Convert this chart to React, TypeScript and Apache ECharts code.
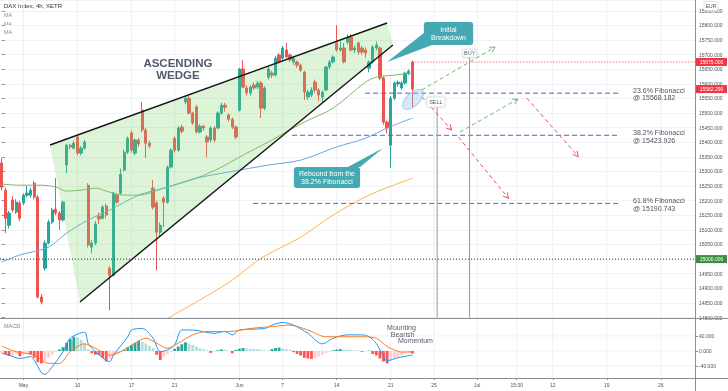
import React, { useEffect, useRef } from 'react';
import * as echarts from 'echarts';

// ---------- axis layout data ----------
const SLOT_COUNT = 193; // 4h bar slots (3 per trading day)
const X_LABEL_SLOTS = [6, 21, 36, 48, 66, 78, 93, 108, 120, 132, 143, 153, 168, 183];
const X_LABEL_TEXTS = ['May', '10', '17', '21', 'Jun', '7', '14', '21', '25', 'Jul', '15:00', '12', '19', '26'];

const PRICE_MIN = 14800;
const PRICE_MAX = 15887.3;
const PRICE_STEP = 50;
const MACD_MIN = -72;
const MACD_MAX = 85.3;
const MACD_TICKS = [-40, 0, 40];

// ---------- candles (DAX 4h) ----------
const candleOpen = [
  15329, 15236, 15116, 15202, 15161, 15192, 15192, 15219, 15219, 15260,
  15212, 14870, 14969, 15055, 15127, 15171, 15158, 15134, 15322, 15390,
  15380, 15418, 15363, 15380, 15253, 15041, 15055, 15147, 15140, 15182,
  14969, 14945, 15219, 15226, 15305, 15366, 15432, 15363, 15408, 15510,
  15442, 15397, 15243, 15192, 15092, 15209, 15195, 15315, 15414, 15373,
  15452, 15538, 15551, 15500, 15521, 15435, 15455, 15418, 15408, 15449,
  15449, 15500, 15527, 15493, 15479, 15452, 15510, 15651, 15586, 15569,
  15596, 15589, 15603, 15517, 15623, 15637, 15630, 15699, 15688, 15716,
  15699, 15675, 15675, 15664, 15640, 15555, 15562, 15606, 15579, 15555,
  15579, 15658, 15675, 15740, 15716, 15723, 15743, 15760, 15716, 15740,
  15723, 15716, 15654, 15675, 15723, 15723, 15620, 15469, 15390, 15551,
  15600, 15586, 15603, 15637, 15675,
];
const candleClose = [
  15246, 15140, 15158, 15168, 15195, 15140, 15219, 15226, 15236, 15212,
  14870, 14853, 15055, 15127, 15168, 15158, 15134, 15195, 15390, 15384,
  15397, 15363, 15380, 15401, 15048, 15055, 15120, 15137, 15178, 15151,
  14945, 15226, 15195, 15290, 15366, 15414, 15373, 15408, 15394, 15442,
  15397, 15387, 15178, 15092, 15116, 15195, 15315, 15373, 15373, 15449,
  15438, 15551, 15500, 15466, 15435, 15455, 15449, 15401, 15449, 15408,
  15500, 15527, 15520, 15479, 15452, 15418, 15651, 15589, 15569, 15589,
  15586, 15603, 15517, 15586, 15651, 15630, 15688, 15675, 15723, 15692,
  15682, 15688, 15664, 15647, 15572, 15572, 15579, 15579, 15562, 15572,
  15658, 15675, 15692, 15716, 15723, 15675, 15760, 15716, 15723, 15709,
  15709, 15706, 15675, 15726, 15733, 15620, 15469, 15449, 15551, 15603,
  15606, 15603, 15637, 15644, 15582.29,
];
const candleLow = [
  15235, 15089, 15105, 15160, 15155, 15130, 15185, 15212, 15210, 15205,
  14865, 14845, 14960, 15050, 15120, 15150, 15100, 15128, 15295, 15375,
  15375, 15355, 15355, 15375, 15040, 15020, 15048, 15120, 15135, 15140,
  14825, 14940, 15190, 15220, 15300, 15360, 15365, 15355, 15385, 15435,
  15346, 15380, 15170, 14962, 15080, 15110, 15190, 15310, 15365, 15368,
  15430, 15530, 15495, 15460, 15430, 15430, 15440, 15349, 15400, 15400,
  15445, 15495, 15505, 15470, 15445, 15410, 15505, 15585, 15560, 15560,
  15580, 15582, 15483, 15510, 15615, 15620, 15625, 15670, 15682, 15688,
  15675, 15665, 15655, 15640, 15545, 15545, 15555, 15570, 15540, 15535,
  15575, 15650, 15670, 15710, 15710, 15670, 15735, 15710, 15705, 15700,
  15700, 15690, 15640, 15670, 15715, 15612, 15460, 15430, 15312, 15545,
  15590, 15580, 15598, 15630, 15521,
];
const candleHigh = [
  15345, 15245, 15165, 15215, 15205, 15200, 15225, 15250, 15245, 15267,
  15220, 14880, 15065, 15135, 15175, 15277, 15165, 15200, 15395, 15395,
  15405, 15425, 15388, 15408, 15260, 15065, 15130, 15160, 15185, 15190,
  14975, 15230, 15225, 15310, 15375, 15420, 15440, 15412, 15415, 15538,
  15450, 15405, 15271, 15200, 15125, 15215, 15320, 15380, 15420, 15455,
  15460, 15560, 15560, 15505, 15528, 15462, 15460, 15425, 15455, 15455,
  15506, 15535, 15535, 15500, 15485, 15458, 15655, 15682, 15595, 15595,
  15605, 15610, 15610, 15592, 15660, 15645, 15695, 15705, 15730, 15740,
  15705, 15695, 15680, 15670, 15645, 15580, 15588, 15615, 15585, 15578,
  15662, 15682, 15698, 15801, 15745, 15740, 15770, 15770, 15730, 15745,
  15730, 15725, 15680, 15732, 15745, 15728, 15625, 15475, 15558, 15608,
  15612, 15610, 15642, 15650, 15680,
];

// ---------- moving averages [slot, price] ----------
const maFast = [
  [0, 15257], [5, 15253], [11, 15253], [15, 15247], [18, 15233], [22, 15236], [26, 15243],
  [30, 15229], [34, 15219], [38, 15219], [45, 15243], [54, 15277], [61, 15315], [67, 15356],
  [74, 15401], [84, 15469], [92, 15517], [101, 15606], [104, 15623], [109, 15630], [114, 15637],
];
const maMid = [
  [0, 14990], [5, 15014], [13, 15041], [18, 15089], [24, 15134], [30, 15168], [38, 15219],
  [45, 15243], [54, 15277], [63, 15298], [74, 15322], [83, 15339], [93, 15384], [101, 15414],
  [107, 15449], [114, 15483],
];
const maSlow = [
  [45, 14790], [55, 14860], [64, 14928], [72, 15003], [83, 15075], [92, 15151], [102, 15219], [114, 15277],
];

// ---------- MACD ----------
const macdHist = [
  -6, -9, -13, -12, -8, -14, -10, -8, -9, -18,
  -30, -33, -26, -18, -10, -3, 4, 10, 22, 32,
  38, 36, 30, 20, 5, -6, -10, -11, -18, -28,
  -20, -14, -8, -3, 3, 10, 16, 22, 27, 25,
  20, 14, 8, -10, -24, -15, -8, -3, 6, 12,
  18, 23, 20, 16, 12, 8, 5, 2, -5, -2,
  2, 4, 3, 1, -6, 3, 6, 8, 7, 6,
  6, 5, 3, 2, 1, 5, 8, 9, 7, 5,
  3, -3, -8, -12, -18, -20, -21, -18, -14, -10,
  -5, -2, 2, 4, 5, 4, 4, 3, 2, 1,
  -2, -1, 1, -8, -12, -20, -28, -33, -26, -20,
  -16, -12, -8, -5, -7,
];
const macdLine = [
  [0, -6], [2, -11], [5, -20], [8, -15], [9, -24], [11, -58], [12, -62], [14, -42], [17, -2],
  [19, 34], [23, 50], [24, 20], [26, -2], [30, -28], [31, -11], [35, 38], [36, 56], [39, 60],
  [42, 34], [44, -2], [46, 3], [48, 16], [50, 56], [53, 56], [59, 47], [62, 52], [64, 43],
  [66, 56], [73, 60], [75, 69], [78, 76], [81, 69], [85, 47], [89, 19], [92, 34], [96, 43],
  [100, 43], [102, 38], [104, 20], [106, -15], [107, -26], [110, -18], [114, -11],
];
const macdSignal = [
  [0, 13], [4, -2], [9, -11], [13, -33], [16, -33], [19, -2], [23, 19], [26, 7], [30, -11],
  [33, -2], [37, 21], [40, 34], [43, 21], [46, 7], [49, 21], [53, 43], [57, 52], [63, 52],
  [70, 61], [75, 65], [80, 69], [85, 56], [90, 38], [96, 38], [100, 38], [104, 34], [107, 12],
  [109, 3], [111, -3], [114, -2],
];

// ---------- annotations (slot, price) ----------
const FIB_NAMES = ['23.6%', '38.2%', '61.8%'];
const FIB_LEVELS = [15568.182, 15423.926, 15190.743];
const FIB_START = [100.9, 80.6, 69.8];
const FIB_END = 171.7;
const FIB_LABEL_SLOT = 175.3;

const WEDGE_UPPER = [[13.4, 15390.7], [107.0, 15808.5]];
const WEDGE_LOWER = [[21.7, 14853.1], [108.6, 15733.2]];
const WEDGE_LABEL = [48.9, 15651];

const RESISTANCE = 15675;
const RESISTANCE_FROM = 114;
const ROUND_LEVEL = 15000;
const LAST_PRICE = 15582.29;

const BUY_ARROWS = [
  [[116.6, 15579], [137.0, 15726]],
  [[127.2, 15435], [143.3, 15548]],
];
const SELL_ARROWS = [
  [[116.6, 15556], [124.9, 15442]],
  [[126.8, 15418], [140.7, 15208]],
  [[145.8, 15551], [160.1, 15351]],
];
const SELL_LINE = [120.9, 15521];
const BUY_LINE = [129.9, 15692];
const SELL_TAG = [[118.0, 15555], [123.1, 15521]];
const BUY_TAG = [[128.0, 15718.5], [131.9, 15691]];
const FOCUS_ZONE = [114.2, 15547];

const CALLOUTS = [
  {
    text: 'Initial\nBreakdown',
    box: [[117.2, 15812], [130.9, 15733]],
    pointer: [[117.2, 15774], [119.5, 15733], [107.0, 15675]],
  },
  {
    text: 'Rebound from the\n38.2% Fibonacci',
    box: [[81.1, 15315.4], [99.5, 15243.5]],
    pointer: [[96.1, 15315.4], [99.5, 15315.4], [105.9, 15380.5]],
  },
];

const MOMENTUM_NOTE: [string, number, number][] = [
  ['Mounting', 107, 62],
  ['Bearish', 108, 45],
  ['Momentum', 110, 27.5],
];

const FONT = 'Liberation Sans';
const UP = '#26a69a';
const DOWN = '#ef5350';
const AXIS_GRAY = '#8a8d94';

function seg(a: number[], b: number[], stroke: string, lineWidth = 1, lineDash?: number[]) {
  return {
    type: 'line',
    shape: { x1: a[0], y1: a[1], x2: b[0], y2: b[1] },
    style: { stroke, lineWidth, lineDash, fill: null },
  };
}

function arrow(a: number[], b: number[], color: string) {
  const ang = Math.atan2(b[1] - a[1], b[0] - a[0]);
  const L = 6;
  const h1 = [b[0] - L * Math.cos(ang - 0.5), b[1] - L * Math.sin(ang - 0.5)];
  const h2 = [b[0] - L * Math.cos(ang + 0.5), b[1] - L * Math.sin(ang + 0.5)];
  return [
    seg(a, b, color, 1, [4, 3]),
    { type: 'polyline', shape: { points: [h1, b, h2] }, style: { stroke: color, lineWidth: 1, fill: null } },
  ];
}

function renderAnnotations(params: any, api: any) {
  const P = (p: number[]) => api.coord(p);
  const cs = params.coordSys;
  const right = cs.x + cs.width;
  const bottom = cs.y + cs.height;
  const ch: any[] = [];

  // wedge
  const u0 = P(WEDGE_UPPER[0]), u1 = P(WEDGE_UPPER[1]);
  const l0 = P(WEDGE_LOWER[0]), l1 = P(WEDGE_LOWER[1]);
  ch.push({ type: 'polygon', shape: { points: [u0, u1, l1, l0] }, style: { fill: 'rgba(120,210,100,0.25)' } });
  ch.push(seg(u0, u1, '#151515', 1.4));
  ch.push(seg(l0, l1, '#151515', 1.4));
  const wl = P(WEDGE_LABEL);
  ch.push({
    type: 'text', x: wl[0], y: wl[1],
    style: { text: 'ASCENDING\nWEDGE', fill: '#4f5b6d', fontSize: 11.5, fontWeight: 'bold', fontFamily: FONT, align: 'center', verticalAlign: 'middle', lineHeight: 12 },
  });

  // horizontal levels
  const y15 = P([0, ROUND_LEVEL])[1];
  ch.push(seg([cs.x, y15], [right, y15], '#3a3a3a', 1, [1, 2]));
  const yr = P([0, RESISTANCE])[1];
  ch.push(seg([P([RESISTANCE_FROM, RESISTANCE])[0], yr], [right, yr], '#f23645', 1, [1, 2]));

  // fibonacci
  FIB_LEVELS.forEach((lv, i) => {
    const a = P([FIB_START[i], lv]);
    const b = P([FIB_END, lv]);
    ch.push(seg(a, b, '#5463c8', 1, [5, 3]));
    const t = P([FIB_LABEL_SLOT, lv]);
    ch.push({
      type: 'text', x: t[0], y: t[1] + 1,
      style: { text: `${FIB_NAMES[i]} Fibonacci\n@ ${lv.toFixed(3)}`, fill: '#50535e', fontSize: 7, fontFamily: FONT, align: 'left', verticalAlign: 'middle', lineHeight: 7.5 },
    });
  });

  // vertical time markers
  const s = P(SELL_LINE);
  ch.push(seg(s, [s[0], bottom], '#9598a1', 1));
  const bl = P(BUY_LINE);
  ch.push(seg(bl, [bl[0], bottom], '#9598a1', 1));

  // arrows
  BUY_ARROWS.forEach(([a, b]) => ch.push(...arrow(P(a), P(b), '#66bb6a')));
  SELL_ARROWS.forEach(([a, b]) => ch.push(...arrow(P(a), P(b), '#ef5350')));

  // focus ellipse
  const fz = P(FOCUS_ZONE);
  ch.push({
    type: 'ellipse', x: fz[0], y: fz[1], rotation: 0.75,
    shape: { cx: 0, cy: 0, rx: 13, ry: 6.5 },
    style: { fill: 'rgba(135,195,230,0.35)', stroke: 'rgba(135,195,230,0.7)', lineWidth: 1 },
  });

  // tags
  const tag = (box: number[][], text: string) => {
    const a = P(box[0]), b = P(box[1]);
    ch.push({
      type: 'rect',
      shape: { x: a[0], y: a[1], width: b[0] - a[0], height: b[1] - a[1], r: 1 },
      style: { fill: '#ffffff', stroke: '#d6d9e0', lineWidth: 0.8, shadowBlur: 2, shadowColor: 'rgba(0,0,0,0.15)' },
    });
    ch.push({
      type: 'text', x: (a[0] + b[0]) / 2, y: (a[1] + b[1]) / 2,
      style: { text, fill: '#555a66', fontSize: 5.5, fontFamily: FONT, align: 'center', verticalAlign: 'middle' },
    });
  };
  tag(SELL_TAG, 'SELL');
  tag(BUY_TAG, 'BUY');

  // callouts
  CALLOUTS.forEach((c) => {
    const a = P(c.box[0]), b = P(c.box[1]);
    ch.push({ type: 'polygon', shape: { points: c.pointer.map(P) }, style: { fill: '#45a9b3' } });
    ch.push({
      type: 'rect',
      shape: { x: a[0], y: a[1], width: b[0] - a[0], height: b[1] - a[1], r: 3 },
      style: { fill: '#45a9b3' },
    });
    ch.push({
      type: 'text', x: (a[0] + b[0]) / 2, y: (a[1] + b[1]) / 2,
      style: { text: c.text, fill: '#ffffff', fontSize: 7, fontFamily: FONT, align: 'center', verticalAlign: 'middle', lineHeight: 8 },
    });
  });

  // price badges on the axis
  const badge = (price: number, color: string) => {
    const y = P([0, price])[1];
    ch.push({ type: 'rect', shape: { x: right + 1, y: y - 4, width: 31, height: 8 }, style: { fill: color } });
    ch.push({
      type: 'text', x: right + 16.5, y,
      style: { text: price.toFixed(3), fill: '#ffffff', fontSize: 5, fontFamily: FONT, align: 'center', verticalAlign: 'middle' },
    });
  };
  badge(RESISTANCE, '#f23645');
  badge(LAST_PRICE, '#f23645');
  badge(ROUND_LEVEL, '#3c8d40');

  return { type: 'group', children: ch };
}

function renderMainGrid(params: any, api: any) {
  const cs = params.coordSys;
  const ch = X_LABEL_SLOTS.map((sl) => {
    const x = api.coord([sl, PRICE_MIN])[0];
    return seg([x, cs.y], [x, cs.y + cs.height], '#eef0f4', 1);
  });
  return { type: 'group', children: ch };
}

function renderMacdGrid(params: any, api: any) {
  const cs = params.coordSys;
  const ch: any[] = X_LABEL_SLOTS.map((sl) => {
    const x = api.coord([sl, 0])[0];
    return seg([x, cs.y], [x, cs.y + cs.height], '#eef0f4', 1);
  });
  MACD_TICKS.forEach((v) => {
    const y = api.coord([0, v])[1];
    ch.push(seg([cs.x, y], [cs.x + cs.width, y], '#f1f2f6', 1));
  });
  return { type: 'group', children: ch };
}

function renderMacdNote(params: any, api: any) {
  const ch = MOMENTUM_NOTE.map(([text, sl, v]) => {
    const p = api.coord([sl, v]);
    return {
      type: 'text', x: p[0], y: p[1],
      style: { text, fill: '#555c6b', fontSize: 7, fontFamily: FONT, align: 'left', verticalAlign: 'middle' },
    };
  });
  return { type: 'group', children: ch };
}

export default function App() {
  const ref = useRef<HTMLDivElement>(null);

  useEffect(() => {
    if (!ref.current) return;
    const chart = echarts.init(ref.current, null, { renderer: 'svg' });
    const slots = Array.from({ length: SLOT_COUNT }, (_, i) => String(i));
    const labelAt = new Map<number, string>(X_LABEL_SLOTS.map((s, i) => [s, X_LABEL_TEXTS[i]]));
    const isLabel = (i: number) => labelAt.has(i);

    const histData = macdHist.map((v, i) => {
      const prev = i > 0 ? macdHist[i - 1] : v;
      let color;
      if (v >= 0) color = i === 0 || v > prev ? UP : '#b2dfdb';
      else color = i === 0 ? '#ffcdd2' : v < prev ? '#ff5252' : '#ffcdd2';
      return { value: v, itemStyle: { color } };
    });

    chart.setOption({
      animation: false,
      textStyle: { fontFamily: FONT },
      grid: [
        { left: 0, top: 0, width: 695, height: 317.5 },
        { left: 0, top: 319, width: 695, height: 59 },
      ],
      xAxis: [
        { type: 'category', gridIndex: 0, data: slots, boundaryGap: true, show: false, axisLine: { onZero: false } },
        { type: 'value', gridIndex: 0, min: -0.5, max: SLOT_COUNT - 0.5, show: false, axisLine: { onZero: false } },
        {
          type: 'category', gridIndex: 1, data: slots, boundaryGap: true, position: 'bottom',
          axisLine: { show: false, onZero: false },
          axisTick: { show: true, alignWithLabel: true, interval: (i: number) => isLabel(i), length: 2, lineStyle: { color: AXIS_GRAY } },
          axisLabel: { interval: (i: number) => isLabel(i), formatter: (_v: string, i: number) => labelAt.get(i) ?? '', fontSize: 5, color: '#50535e', margin: 4 },
          splitLine: { show: false },
        },
      ],
      yAxis: [
        {
          type: 'value', gridIndex: 0, position: 'right', min: PRICE_MIN, max: PRICE_MAX, interval: PRICE_STEP,
          axisLine: { show: false },
          axisTick: { show: true, length: 3, lineStyle: { color: AXIS_GRAY } },
          axisLabel: { fontSize: 5, color: '#50535e', margin: 4, formatter: (v: number) => v.toFixed(3), showMaxLabel: false },
          splitLine: { show: true, lineStyle: { color: '#f1f2f6' } },
        },
        {
          type: 'value', gridIndex: 1, position: 'right', min: MACD_MIN, max: MACD_MAX,
          axisLine: { show: false },
          axisTick: { show: true, length: 3, customValues: MACD_TICKS, lineStyle: { color: AXIS_GRAY } },
          axisLabel: { customValues: MACD_TICKS, fontSize: 5, color: '#50535e', margin: 4, formatter: (v: number) => v.toFixed(3) },
          splitLine: { show: false },
        },
      ],
      series: [
        {
          type: 'custom', xAxisIndex: 0, yAxisIndex: 0, z: 0, silent: true,
          renderItem: renderMainGrid, data: [[0, PRICE_MIN]],
        },
        {
          type: 'candlestick', xAxisIndex: 0, yAxisIndex: 0, z: 2, silent: true, barWidth: 2.8,
          data: candleOpen.map((o, i) => [o, candleClose[i], candleLow[i], candleHigh[i]]),
          itemStyle: { color: UP, color0: DOWN, borderColor: UP, borderColor0: DOWN, borderWidth: 1 },
        },
        {
          type: 'line', xAxisIndex: 0, yAxisIndex: 0, z: 3, silent: true, showSymbol: false, smooth: 0.3,
          data: maFast, lineStyle: { color: '#7fb661', width: 1 },
        },
        {
          type: 'line', xAxisIndex: 0, yAxisIndex: 0, z: 3, silent: true, showSymbol: false, smooth: 0.3,
          data: maMid, lineStyle: { color: '#64a8e0', width: 1 },
        },
        {
          type: 'line', xAxisIndex: 0, yAxisIndex: 0, z: 3, silent: true, showSymbol: false, smooth: 0.3,
          data: maSlow, lineStyle: { color: '#ffb14a', width: 1 },
        },
        {
          type: 'custom', xAxisIndex: 1, yAxisIndex: 0, z: 5, silent: true, clip: false,
          renderItem: renderAnnotations, data: [[0, ROUND_LEVEL]],
        },
        {
          type: 'custom', xAxisIndex: 2, yAxisIndex: 1, z: 0, silent: true,
          renderItem: renderMacdGrid, data: [[0, 0]],
        },
        {
          type: 'bar', xAxisIndex: 2, yAxisIndex: 1, z: 2, silent: true, barWidth: 2.8,
          data: histData,
        },
        {
          type: 'line', xAxisIndex: 2, yAxisIndex: 1, z: 3, silent: true, showSymbol: false, smooth: 0.3,
          data: macdLine, lineStyle: { color: '#2196f3', width: 1 },
        },
        {
          type: 'line', xAxisIndex: 2, yAxisIndex: 1, z: 3, silent: true, showSymbol: false, smooth: 0.3,
          data: macdSignal, lineStyle: { color: '#ff7a1a', width: 1 },
        },
        {
          type: 'custom', xAxisIndex: 2, yAxisIndex: 1, z: 5, silent: true, clip: false,
          renderItem: renderMacdNote, data: [[0, 0]],
        },
      ],
      graphic: [
        { type: 'text', left: 4, top: 3, style: { text: 'DAX Index, 4h, XETR', fill: '#2a2e39', fontSize: 6, fontFamily: FONT } },
        { type: 'text', left: 4, top: 12, style: { text: 'MA', fill: '#8a8d94', fontSize: 5.5, fontFamily: FONT } },
        { type: 'text', left: 4, top: 20.5, style: { text: 'MA', fill: '#8a8d94', fontSize: 5.5, fontFamily: FONT } },
        { type: 'text', left: 4, top: 29, style: { text: 'MA', fill: '#8a8d94', fontSize: 5.5, fontFamily: FONT } },
        { type: 'text', left: 4, top: 323, style: { text: 'MACD', fill: '#7a7d86', fontSize: 5.5, fontFamily: FONT } },
        { type: 'line', shape: { x1: 695.5, y1: 0, x2: 695.5, y2: 391 }, style: { stroke: AXIS_GRAY, lineWidth: 1 }, z: 10 },
        { type: 'line', shape: { x1: 0, y1: 318.5, x2: 728, y2: 318.5 }, style: { stroke: AXIS_GRAY, lineWidth: 1 }, z: 10 },
        { type: 'line', shape: { x1: 0, y1: 378.5, x2: 728, y2: 378.5 }, style: { stroke: AXIS_GRAY, lineWidth: 1 }, z: 10 },
        { type: 'rect', shape: { x: 704, y: 1.5, width: 14, height: 9, r: 1 }, style: { fill: '#ffffff', stroke: '#cfd2d8', lineWidth: 0.6 }, z: 10 },
        { type: 'text', x: 711, y: 6, style: { text: 'EUR', fill: '#50535e', fontSize: 5, fontFamily: FONT, align: 'center', verticalAlign: 'middle' }, z: 11 },
      ],
    });
    return () => chart.dispose();
  }, []);

  return <div ref={ref} style={{ position: 'fixed', left: 0, top: 0, width: 728, height: 391 }} />;
}
